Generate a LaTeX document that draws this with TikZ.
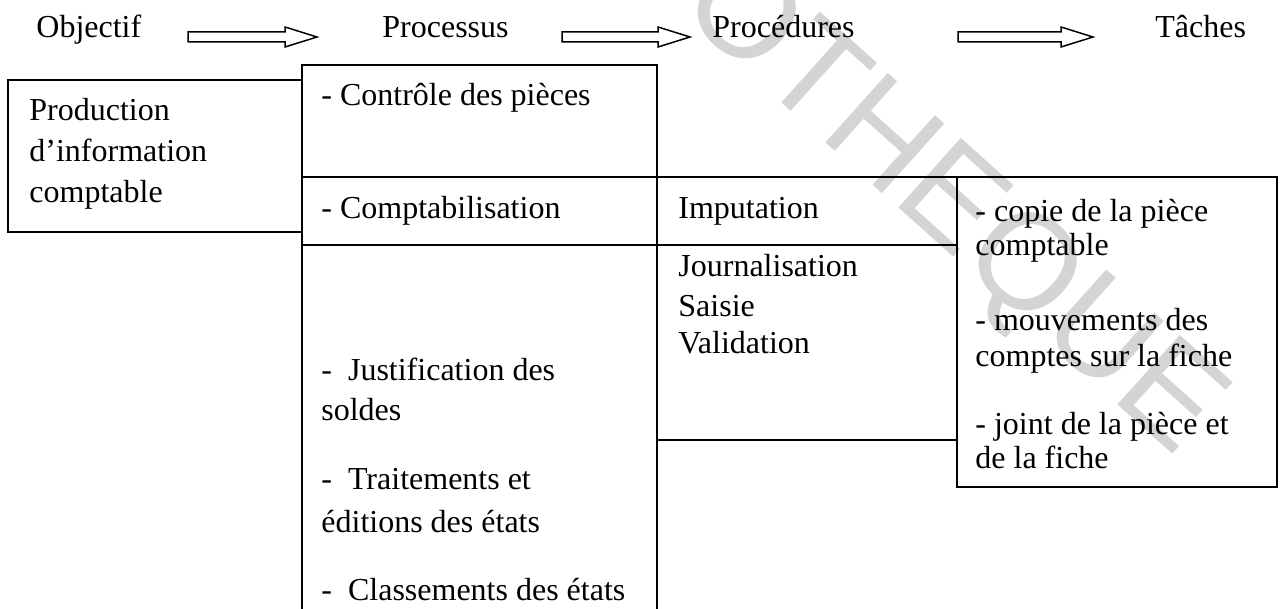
\documentclass[tikz,border=0pt]{standalone}
\usepackage{fontspec}
\setmainfont{Liberation Serif}
\newfontfamily\wmfont{Liberation Sans}
\usetikzlibrary{calc}

% hollow block arrow between two named coordinates
\newcommand\blockarrow[2]{%
  \draw[hollow] let \p1=(#1), \p2=(#2) in
    (\x1,\y1+2.5pt) -- (\x2-16pt,\y1+2.5pt) -- (\x2-16pt,\y1+5pt) -- (\x2,\y1)
    -- (\x2-16pt,\y1-5pt) -- (\x2-16pt,\y1-2.5pt) -- (\x1,\y1-2.5pt) -- cycle;}

\begin{document}
\begin{tikzpicture}[x=0.5pt,y=-0.5pt,
  rule/.style={line width=0.8pt, line cap=rect},
  label/.style={anchor=base west, inner sep=0pt,
    font=\fontsize{16pt}{18pt}\selectfont},
  hollow/.style={line width=0.75pt, fill=white, line join=miter},
  watermark/.style={rotate=-41.9, text=black!17, inner sep=0pt,
    font=\wmfont\fontsize{68pt}{68pt}\selectfont}]
\useasboundingbox (0,0) rectangle (1280,609);

% faint library stamp behind everything
\begin{scope}
  \clip (0,0) rectangle (1280,609);
  \node[watermark] (wm) at (950,208) {OTHEQUE};
\end{scope}

% table rules
\draw[rule] (8,80) rectangle (302,232);
\draw[rule] (302,609) -- (302,65) -- (657,65) -- (657,609);
\draw[rule] (302,177) -- (1277,177) -- (1277,487) -- (957,487) -- (957,177);
\draw[rule] (302,245) -- (957,245);
\draw[rule] (657,440) -- (957,440);

% column headings
\node[label] (hobj)   at (36,38)   {Objectif};
\node[label] (hproc)  at (382,38)  {Processus};
\node[label] (hprocd) at (712,38)  {Procédures};
\node[label] (htach)  at (1155,38) {Tâches};

% arrows between headings
\coordinate (a1s) at (188,37);  \coordinate (a1e) at (317,37);
\coordinate (a2s) at (562,37);  \coordinate (a2e) at (690,37);
\coordinate (a3s) at (958,37);  \coordinate (a3e) at (1093,37);
\blockarrow{a1s}{a1e}
\blockarrow{a2s}{a2e}
\blockarrow{a3s}{a3e}

% objective
\node[label] (o1) at (29,121) {Production};
\node[label] (o2) at (29,162) {d’information};
\node[label] (o3) at (29,203) {comptable};

% processes
\node[label] (p1) at (321,106) {- Contrôle des pièces};
\node[label] (p2) at (321,219) {- Comptabilisation};
\node[label] (p3) at (321,380) {-\ \ Justification des};
\node[label] (p4) at (321,420) {soldes};
\node[label] (p5) at (321,489) {-\ \ Traitements et};
\node[label] (p6) at (321,532) {éditions des états};
\node[label] (p7) at (321,600) {-\ \ Classements des états};

% procedures
\node[label] (r1) at (678,219) {Imputation};
\node[label] (r2) at (678,277) {Journalisation};
\node[label] (r3) at (678,316) {Saisie};
\node[label] (r4) at (678,354) {Validation};

% tasks
\node[label] (t1) at (975,222) {- copie de la pièce};
\node[label] (t2) at (975,256) {comptable};
\node[label] (t3) at (975,330) {- mouvements des};
\node[label] (t4) at (975,366) {comptes sur la fiche};
\node[label] (t5) at (975,434) {- joint de la pièce et};
\node[label] (t6) at (975,468) {de la fiche};
\end{tikzpicture}
\end{document}
